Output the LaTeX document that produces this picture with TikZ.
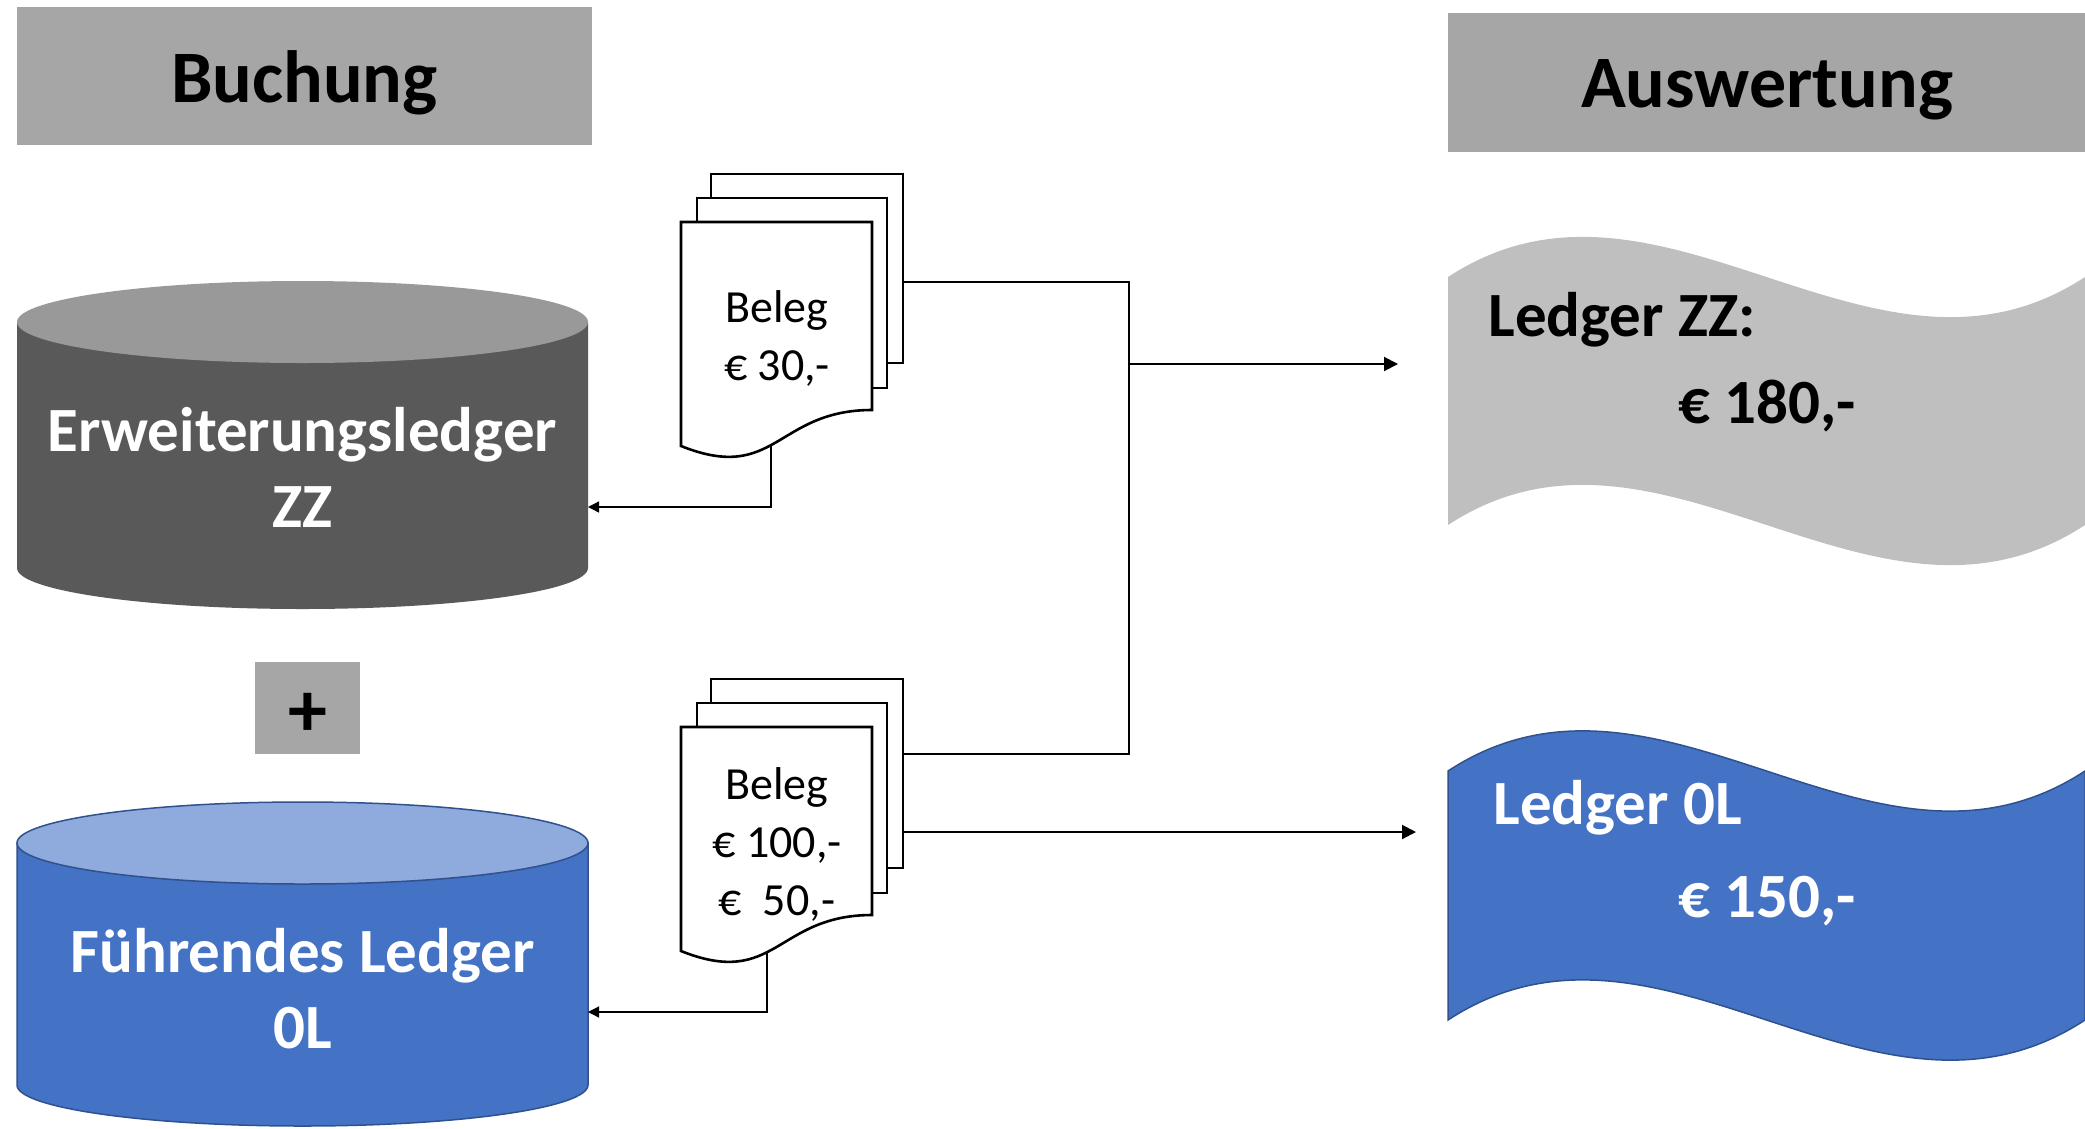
\documentclass[tikz,border=0pt]{standalone}
\usepackage{fontspec}
\setmainfont{Carlito}
\usetikzlibrary{arrows.meta}
\definecolor{titlegray}{HTML}{A6A6A6}
\definecolor{dbdark}{HTML}{595959}
\definecolor{dbdarktop}{HTML}{999999}
\definecolor{dbblue}{HTML}{4472C4}
\definecolor{dbbluetop}{HTML}{8FAADC}
\definecolor{bluedge}{HTML}{2F528F}
\definecolor{tapegray}{HTML}{BFBFBF}
\tikzset{
  titlebox/.style={fill=titlegray, inner sep=0pt},
  titletext/.style={font=\fontsize{74}{88}\selectfont\bfseries},
  page/.style={draw=black, fill=white, line width=2.6pt, inner sep=0pt},
  thinline/.style={draw=black, line width=1.3pt},
  smallarr/.style={thinline, -{Triangle[length=11pt,width=11pt]}},
  bigarr/.style={draw=black, line width=2pt, -{Triangle[length=14pt,width=14pt]}},
  dbtext/.style={text=white, align=center, font=\fontsize{63}{76}\selectfont\bfseries},
  tapetext/.style={font=\fontsize{63}{76}\selectfont\bfseries},
  doctext/.style={align=center, font=\fontsize{46}{58}\selectfont},
}
\begin{document}
\begin{tikzpicture}[x=1pt,y=1pt]
\useasboundingbox (0,0) rectangle (2085,-1128);

% title boxes
\node[titlebox, minimum width=575pt, minimum height=138pt] (buchung) at (304.5,-76) {};
\node[titletext] (buchtext) at (304.5,-83) {Buchung};
\node[titlebox, minimum width=640pt, minimum height=139pt] (auswertung) at (1768,-82.5) {};
\node[titletext] (auswtext) at (1767,-90) {Auswertung};

% upper cylinder (Erweiterungsledger ZZ)
\fill[dbdark] (17,-322) -- (17,-568) arc[start angle=180, end angle=360, x radius=285.5pt, y radius=41pt] -- (588,-322) -- cycle;
\fill[dbdarktop] (302.5,-322) ellipse[x radius=285.5pt, y radius=41pt];
\node[dbtext] (zzdb) at (302.5,-467) {Erweiterungsledger\\ZZ};
\coordinate (zzin) at (588,-507);

% plus
\node[titlebox, minimum width=105pt, minimum height=92pt] (plus) at (307.5,-708) {};
\node[font=\fontsize{78}{90}\selectfont\bfseries] (plustext) at (307.5,-715) {+};

% lower cylinder (Fuehrendes Ledger 0L)
\filldraw[fill=dbblue, draw=bluedge, line width=1.5pt] (17,-843) -- (17,-1085) arc[start angle=180, end angle=360, x radius=285.5pt, y radius=41pt] -- (588,-843) -- cycle;
\filldraw[fill=dbbluetop, draw=bluedge, line width=1.5pt] (302.5,-843) ellipse[x radius=285.5pt, y radius=41pt];
\node[dbtext] (oldb) at (302.5,-989) {Führendes Ledger\\0L};
\coordinate (olin) at (588,-1012);

% tapes
\fill[tapegray] (1448,-277) .. controls (1660,-138) and (1873,-416) .. (2085,-277) -- (2085,-525) .. controls (1873,-664) and (1660,-386) .. (1448,-525) -- cycle;
\filldraw[fill=dbblue, draw=bluedge, line width=1.5pt] (1448,-771) .. controls (1660,-632) and (1873,-910) .. (2085,-771) -- (2085,-1020) .. controls (1873,-1159) and (1660,-881) .. (1448,-1020) -- cycle;
\node[tapetext, anchor=west] (zzlabel) at (1485,-320) {Ledger ZZ:};
\node[tapetext] (zzsum) at (1767,-406) {€ 180,-};
\node[tapetext, anchor=west, text=white] (ollabel) at (1490,-808) {Ledger 0L};
\node[tapetext, text=white] (olsum) at (1767,-901) {€ 150,-};
\coordinate (zztape) at (1398,-364);
\coordinate (oltape) at (1416,-832);

% connector anchors
\coordinate (d1out) at (771,-440);
\coordinate (d2out) at (767,-945);
\coordinate (d1back) at (903,-282);
\coordinate (d2back) at (903,-754);
\coordinate (merge) at (1129,-364);
\coordinate (d2arr) at (903,-832);

% connectors (drawn below the documents)
\draw[smallarr] (d1out) |- (zzin);
\draw[smallarr] (d2out) |- (olin);
\draw[thinline] (d1back) -| (merge) |- (d2back);
\draw[bigarr] (merge) -- (zztape);
\draw[bigarr] (d2arr) -- (oltape);

% upper document stack
\node[page, minimum width=192pt, minimum height=189pt] (d1a) at (807,-268.5) {};
\node[page, minimum width=190pt, minimum height=190pt] (d1b) at (792,-293) {};
\filldraw[fill=white, draw=black, line width=2.6pt, line join=miter] (681,-222) -- (872,-222) -- (872,-410) .. controls (776,-410) and (776,-484) .. (681,-446) -- cycle;
\node[doctext] (d1text) at (777,-338) {Beleg\\€ 30,-};

% lower document stack
\node[page, minimum width=192pt, minimum height=189pt] (d2a) at (807,-773.5) {};
\node[page, minimum width=190pt, minimum height=190pt] (d2b) at (792,-798) {};
\filldraw[fill=white, draw=black, line width=2.6pt, line join=miter] (681,-727) -- (872,-727) -- (872,-915) .. controls (776,-915) and (776,-989) .. (681,-951) -- cycle;
\node[doctext] (d2text) at (777,-844) {Beleg\\€ 100,-\\€~~50,-};
\end{tikzpicture}
\end{document}
